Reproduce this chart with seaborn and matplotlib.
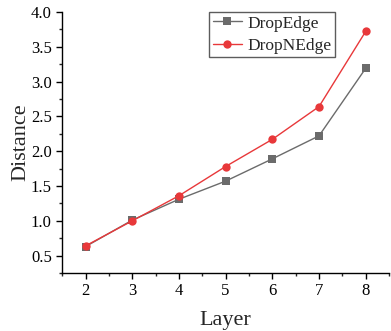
import matplotlib
matplotlib.use("Agg")
import matplotlib.pyplot as plt
import seaborn as sns
import pandas as pd
from matplotlib.ticker import MultipleLocator

layers = [2, 3, 4, 5, 6, 7, 8]
drop_edge = [0.63, 1.01, 1.31, 1.57, 1.89, 2.22, 3.19]
drop_nedge = [0.64, 1.00, 1.36, 1.78, 2.17, 2.64, 3.72]
series_names = ["DropEdge", "DropNEdge"]

df = pd.DataFrame({
    "Layer": layers * 2,
    "Distance": drop_edge + drop_nedge,
    "Method": [series_names[0]] * len(layers) + [series_names[1]] * len(layers),
})

sns.set_style("ticks")
plt.rcParams["font.family"] = ["Liberation Serif", "DejaVu Serif"]
plt.rcParams["mathtext.fontset"] = "stix"

fig = plt.figure(figsize=(3.91, 3.31), dpi=100)
ax = fig.add_axes([0.159, 0.175, 0.836, 0.789])

palette = {"DropEdge": "#6b6b6b", "DropNEdge": "#e8383a"}
sns.lineplot(data=df, x="Layer", y="Distance", hue="Method", style="Method",
             markers={"DropEdge": "s", "DropNEdge": "o"},
             dashes=False, palette=palette, linewidth=1.0, markersize=6,
             markeredgewidth=0, ax=ax)

ax.set_xlim(1.5, 8.5)
ax.set_ylim(0.25, 4.0)
ax.xaxis.set_major_locator(MultipleLocator(1))
ax.xaxis.set_minor_locator(MultipleLocator(0.5))
ax.yaxis.set_major_locator(MultipleLocator(0.5))
ax.yaxis.set_minor_locator(MultipleLocator(0.25))
ax.yaxis.set_major_formatter(matplotlib.ticker.FormatStrFormatter("%.1f"))
ax.tick_params(axis="both", which="major", direction="out", length=4, width=1,
               labelsize=12, colors="black")
ax.tick_params(axis="both", which="minor", direction="out", length=2.5, width=1)
for s in ["top", "right"]:
    ax.spines[s].set_visible(False)
for s in ["left", "bottom"]:
    ax.spines[s].set_color("black")
    ax.spines[s].set_linewidth(1)

ax.set_xlabel("Layer", fontsize=16, labelpad=8)
ax.set_ylabel("Distance", fontsize=16, labelpad=0)

leg = ax.legend(title=None, loc="upper left", bbox_to_anchor=(0.45, 1.0),
                borderaxespad=0, fontsize=12.5, frameon=True, fancybox=False,
                handlelength=1.7, borderpad=0.2, labelspacing=0.35,
                handletextpad=0.3)
leg.get_frame().set_edgecolor("#333333")
leg.get_frame().set_linewidth(1)

fig.savefig("out.png", dpi=100)
